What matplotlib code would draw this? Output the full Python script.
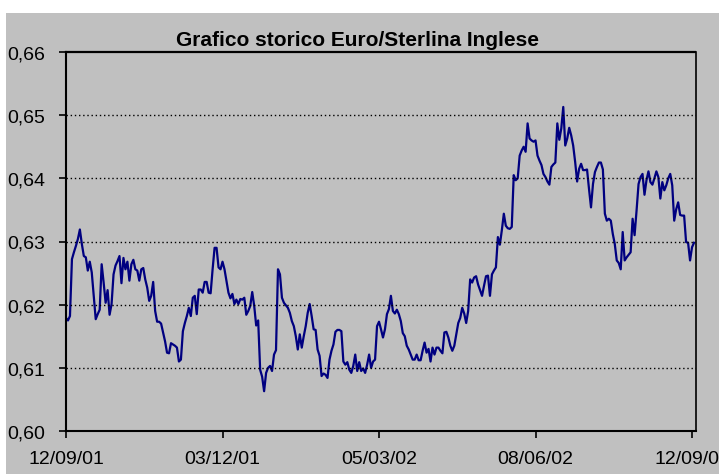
import numpy as np
import matplotlib
matplotlib.use("Agg")
import matplotlib.pyplot as plt
from matplotlib.patches import Rectangle

plt.rcParams['font.family'] = ['Liberation Sans', 'DejaVu Sans']

# tasso Euro/Sterlina (valori circa giornalieri)
cambio = [
    0.6179, 0.6175, 0.6182, 0.6272, 0.6283, 0.6293, 0.6304, 0.6319, 0.6296, 0.6277,
    0.6275, 0.6254, 0.6268, 0.6251, 0.6214, 0.6177, 0.6185, 0.6192, 0.6264, 0.6235,
    0.6203, 0.6223, 0.6184, 0.6201, 0.6248, 0.6262, 0.6269, 0.6277, 0.6234, 0.6274,
    0.6256, 0.6268, 0.6238, 0.6264, 0.6271, 0.6256, 0.6254, 0.6238, 0.6256, 0.6258,
    0.6240, 0.6227, 0.6206, 0.6214, 0.6236, 0.6190, 0.6173, 0.6173, 0.6170, 0.6156,
    0.6142, 0.6124, 0.6123, 0.6139, 0.6137, 0.6135, 0.6132, 0.6110, 0.6113, 0.6158,
    0.6171, 0.6182, 0.6195, 0.6182, 0.6211, 0.6214, 0.6185, 0.6224, 0.6224, 0.6219,
    0.6236, 0.6236, 0.6219, 0.6218, 0.6256, 0.6290, 0.6290, 0.6259, 0.6256, 0.6268,
    0.6256, 0.6238, 0.6219, 0.6210, 0.6217, 0.6201, 0.6208, 0.6201, 0.6209, 0.6208,
    0.6211, 0.6184, 0.6190, 0.6198, 0.6220, 0.6198, 0.6167, 0.6175, 0.6097, 0.6086,
    0.6063, 0.6092, 0.6100, 0.6103, 0.6095, 0.6121, 0.6128, 0.6256, 0.6248, 0.6211,
    0.6203, 0.6199, 0.6195, 0.6187, 0.6174, 0.6166, 0.6150, 0.6129, 0.6153, 0.6132,
    0.6150, 0.6166, 0.6187, 0.6201, 0.6182, 0.6161, 0.6160, 0.6129, 0.6119, 0.6087,
    0.6091, 0.6089, 0.6084, 0.6113, 0.6127, 0.6137, 0.6157, 0.6160, 0.6160, 0.6158,
    0.6110, 0.6105, 0.6109, 0.6097, 0.6092, 0.6103, 0.6121, 0.6095, 0.6109, 0.6095,
    0.6099, 0.6092, 0.6105, 0.6121, 0.6100, 0.6110, 0.6113, 0.6166, 0.6173, 0.6161,
    0.6148, 0.6161, 0.6185, 0.6193, 0.6214, 0.6190, 0.6186, 0.6192, 0.6185, 0.6174,
    0.6155, 0.6150, 0.6135, 0.6129, 0.6121, 0.6113, 0.6113, 0.6121, 0.6112, 0.6112,
    0.6127, 0.6140, 0.6124, 0.6130, 0.6110, 0.6132, 0.6121, 0.6132, 0.6132, 0.6127,
    0.6123, 0.6156, 0.6157, 0.6148, 0.6135, 0.6127, 0.6135, 0.6153, 0.6171, 0.6179,
    0.6195, 0.6186, 0.6171, 0.6190, 0.6240, 0.6235, 0.6243, 0.6245, 0.6232, 0.6223,
    0.6214, 0.6230, 0.6245, 0.6246, 0.6214, 0.6248, 0.6254, 0.6259, 0.6307, 0.6295,
    0.6318, 0.6344, 0.6325, 0.6321, 0.6320, 0.6323, 0.6405, 0.6397, 0.6400, 0.6436,
    0.6444, 0.6450, 0.6442, 0.6487, 0.6463, 0.6460, 0.6458, 0.6460, 0.6436, 0.6428,
    0.6421, 0.6407, 0.6402, 0.6395, 0.6390, 0.6418, 0.6422, 0.6425, 0.6487, 0.6461,
    0.6479, 0.6513, 0.6452, 0.6463, 0.6480, 0.6468, 0.6452, 0.6426, 0.6395, 0.6415,
    0.6423, 0.6413, 0.6413, 0.6414, 0.6383, 0.6354, 0.6391, 0.6410, 0.6418, 0.6425,
    0.6425, 0.6414, 0.6344, 0.6333, 0.6336, 0.6333, 0.6312, 0.6296, 0.6270, 0.6266,
    0.6256, 0.6315, 0.6270, 0.6275, 0.6279, 0.6283, 0.6336, 0.6310, 0.6349, 0.6391,
    0.6402, 0.6407, 0.6374, 0.6397, 0.6411, 0.6394, 0.6390, 0.6400, 0.6411, 0.6402,
    0.6368, 0.6394, 0.6381, 0.6389, 0.6400, 0.6407, 0.6389, 0.6333, 0.6351, 0.6362,
    0.6342, 0.6341, 0.6341, 0.6299, 0.6298, 0.6270, 0.6291, 0.6298,
]

date_labels = ['12/09/01', '03/12/01', '05/03/02', '08/06/02', '12/09/02']
y_ticks = [0.60, 0.61, 0.62, 0.63, 0.64, 0.65, 0.66]
y_labels = ['0,60', '0,61', '0,62', '0,63', '0,64', '0,65', '0,66']

grigio = '#c0c0c0'
n = len(cambio)

fig = plt.figure(figsize=(7.19, 4.77), dpi=100, facecolor='white')
# sfondo grigio dell'area grafico, sotto gli assi
fig.patches.append(Rectangle((6 / 719, 2 / 477), 1, 1 - 16 / 477,
                             transform=fig.transFigure, facecolor=grigio,
                             edgecolor='none', zorder=-10))

ax = fig.add_axes([66 / 719, 1 - 432 / 477, 630 / 719, 379 / 477])
ax.set_zorder(1)
ax.set_facecolor(grigio)

ax.plot(np.arange(n), cambio, color='#000080', linewidth=1.6)

ax.set_xlim(0, n)
ax.set_ylim(0.60, 0.66)
ax.set_xticks(np.linspace(0, n - 2, len(date_labels)))
ax.set_xticklabels(date_labels)
ax.set_yticks(y_ticks)
ax.set_yticklabels(y_labels)

for v in y_ticks[1:-1]:
    ax.axhline(v, color='black', linestyle=(0, (1, 2)), linewidth=1.0)

ax.spines['left'].set_linewidth(1.5)
ax.spines['bottom'].set_linewidth(1.5)
ax.spines['right'].set_linewidth(1.2)
ax.spines['top'].set_linestyle((0, (1, 1)))
ax.spines['top'].set_linewidth(1.6)

ax.tick_params(axis='both', direction='out', length=5, width=1.2,
               labelsize=14, colors='black')
ax.tick_params(axis='y', pad=10)
ax.tick_params(axis='x', pad=9)

fig.text(358 / 719, 1 - 40 / 477, 'Grafico storico Euro/Sterlina Inglese',
         ha='center', va='center', fontsize=15, fontweight='bold')

fig.savefig('out.png', dpi=100, facecolor='white')
